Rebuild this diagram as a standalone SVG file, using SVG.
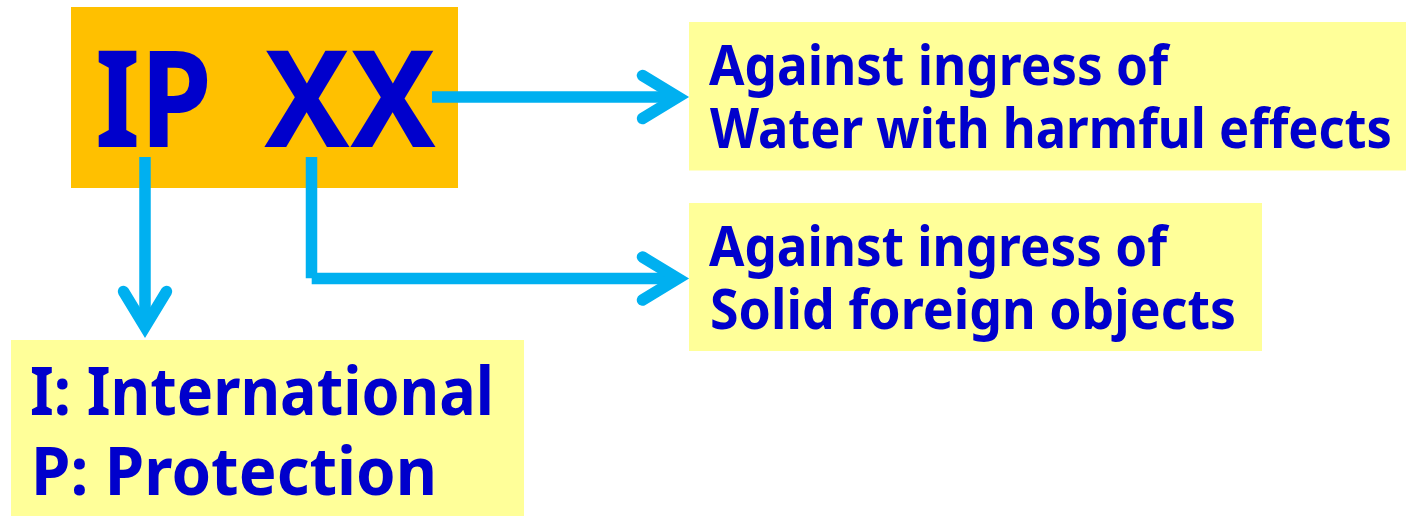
<svg xmlns="http://www.w3.org/2000/svg" width="1406" height="516" viewBox="0 0 1406 516">
  <style>
    .txt { font-family: "Noto Sans", "Open Sans", "Liberation Sans", sans-serif; font-weight: bold; fill: #0000CC; }
    .big { font-size: 135px; }
    .mid { font-size: 55px; }
    .lrg { font-size: 67px; }
    .note { fill: #FFFF99; }
    .conn { fill: none; stroke: #00B0F0; stroke-width: 11.5; stroke-linecap: butt; }
  </style>
  <defs>
    <marker id="chev" markerUnits="userSpaceOnUse" orient="auto" overflow="visible" refX="0" refY="0" markerWidth="1" markerHeight="1">
      <path d="M-35.5,-21.5 L0,0 L-35.5,21.5" fill="none" stroke="#00B0F0" stroke-width="11.5" stroke-linecap="round" stroke-linejoin="miter" stroke-miterlimit="10"/>
    </marker>
  </defs>
  <rect width="1406" height="516" fill="#FFFFFF"/>

  <g id="node-ipxx">
    <rect x="71" y="7" width="387" height="181" fill="#FFC000"/>
    <text class="txt big" x="95" y="147" textLength="117" lengthAdjust="spacingAndGlyphs">IP</text>
    <text class="txt big" x="264" y="147" textLength="172" lengthAdjust="spacingAndGlyphs">XX</text>
  </g>

  <g id="node-water">
    <rect class="note" x="689" y="22" width="717" height="148.5"/>
    <text class="txt mid" x="709" y="85" textLength="459" lengthAdjust="spacingAndGlyphs">Against ingress of</text>
    <text class="txt mid" x="710" y="148" textLength="682" lengthAdjust="spacingAndGlyphs">Water with harmful effects</text>
  </g>

  <g id="node-solid">
    <rect class="note" x="689" y="203" width="573" height="148"/>
    <text class="txt mid" x="709" y="265.5" textLength="458" lengthAdjust="spacingAndGlyphs">Against ingress of</text>
    <text class="txt mid" x="710" y="328.5" textLength="526" lengthAdjust="spacingAndGlyphs">Solid foreign objects</text>
  </g>

  <g id="node-ip">
    <rect class="note" x="11" y="340" width="513" height="176"/>
    <text class="txt lrg" x="30" y="415" textLength="464" lengthAdjust="spacingAndGlyphs">I: International</text>
    <text class="txt lrg" x="31" y="495" textLength="406" lengthAdjust="spacingAndGlyphs">P: Protection</text>
  </g>

  <g id="connectors">
    <line class="conn" x1="432" y1="97" x2="678" y2="97" marker-end="url(#chev)"/>
    <line class="conn" x1="311.5" y1="157" x2="311.5" y2="278.3"/>
    <line class="conn" x1="311.7" y1="278.5" x2="678" y2="278.5" marker-end="url(#chev)"/>
    <line class="conn" x1="145" y1="157" x2="145" y2="327" marker-end="url(#chev)"/>
  </g>
</svg>
